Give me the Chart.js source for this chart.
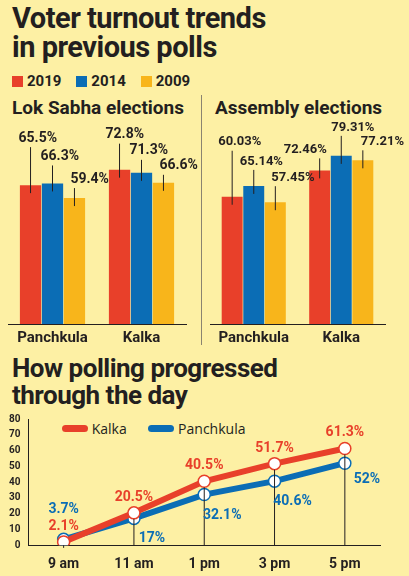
<!DOCTYPE html>
<html><head><meta charset="utf-8">
<script src="https://cdn.jsdelivr.net/npm/chart.js@4"></script>
<style>
body{margin:0;background:#fdf0a4;width:409px;height:576px;position:relative;overflow:hidden;font-family:"Liberation Sans Narrow","Roboto",sans-serif;font-weight:bold;color:#231f20}
.t{position:absolute;left:12px;font-size:29px;line-height:29px;letter-spacing:-0.5px}
.sub{position:absolute;font-size:19px}
.sq{display:inline-block;width:11px;height:11px;margin-right:4px;vertical-align:-1px}
canvas{position:absolute}
</style></head><body>
<div class="t" style="top:4px">Voter turnout trends<br>in previous polls</div>
<div style="position:absolute;left:12px;top:72px;font-size:15px">
<span class="sq" style="background:#e8402a"></span>2019&nbsp;&nbsp;&nbsp;
<span class="sq" style="background:#0b6db5"></span>2014&nbsp;&nbsp;&nbsp;
<span class="sq" style="background:#f8b51b"></span>2009</div>
<div class="sub" style="left:12px;top:96px">Lok Sabha elections</div>
<div class="sub" style="left:215px;top:96px">Assembly elections</div>
<div style="position:absolute;left:201px;top:95px;width:1px;height:250px;background:#8a8470"></div>
<div class="t" style="top:355px;font-size:26px;line-height:27px">How polling progressed<br>through the day</div>
<div style="position:absolute;left:62px;top:419px;font-size:14px;font-weight:normal;font-family:'Open Sans',sans-serif">
<span style="display:inline-block;width:26px;height:7px;border-radius:4px;background:#e8402a;vertical-align:2px"></span> Kalka&nbsp;&nbsp;&nbsp;&nbsp;&nbsp;
<span style="display:inline-block;width:26px;height:7px;border-radius:4px;background:#0b6db5;vertical-align:2px"></span> Panchkula</div>
<canvas id="ls" style="left:8px;top:112px" width="192" height="240"></canvas>
<canvas id="as" style="left:210px;top:112px" width="199" height="240"></canvas>
<canvas id="poll" style="left:0;top:410px" width="400" height="166"></canvas>
<script>
const places = ["Panchkula","Kalka"];
const years = ["2019","2014","2009"];
const colors = ["#e8402a","#0b6db5","#f8b51b"];
const lokSabha = [[65.5,72.8],[66.3,71.3],[59.4,66.6]];
const assembly = [[60.03,72.46],[65.14,79.31],[57.45,77.21]];
const times = ["9 am","11 am","1 pm","3 pm","5 pm"];
const kalka = [2.1,20.5,40.5,51.7,61.3];
const panchkula = [3.7,17,32.1,40.6,52];
const fontF = "'Liberation Sans Narrow', Roboto, sans-serif";

const barLabels = {
  id:"barLabels",
  afterDatasetsDraw(chart,args,opts){
    const c = chart.ctx;
    c.save();
    c.font = "bold " + opts.size + "px " + fontF;
    c.fillStyle = "#231f20"; c.strokeStyle = "#231f20"; c.lineWidth = 1;
    chart.data.datasets.forEach((ds,i)=>{
      chart.getDatasetMeta(i).data.forEach((b,j)=>{
        const off = opts.offsets[i][j];
        const ly = b.y - off;
        c.beginPath(); c.moveTo(b.x, b.y + 8); c.lineTo(b.x, ly + 2); c.stroke();
        c.textAlign = "left"; c.textBaseline = "bottom";
        c.fillText(ds.data[j] + "%", b.x - opts.shift[i][j], ly);
      });
    });
    c.restore();
  }
};

function barChart(id, vals, offsets, shift, size, right){
  new Chart(document.getElementById(id),{
    type:"bar",
    data:{labels:places,datasets:years.map((y,i)=>({label:y,data:vals[i],backgroundColor:colors[i]}))},
    options:{
      responsive:false,animation:false,
      layout:{padding:{top:0,right}},
      categoryPercentage:0.74,barPercentage:0.97,
      plugins:{legend:{display:false},tooltip:{enabled:false},barLabels:{offsets,shift,size}},
      scales:{
        y:{display:false,min:0,max:100},
        x:{grid:{display:false,drawTicks:false},border:{color:"#231f20",width:1},
           ticks:{color:"#231f20",font:{family:fontF,size:15,weight:"bold"},padding:5}}
      }
    },
    plugins:[barLabels]
  });
}
barChart("ls", lokSabha, [[40,28],[20,15],[12,10]], [[12,14],[12,12],[4,4]], 14, 14);
barChart("as", assembly, [[48,14],[18,22],[18,12]], [[14,36],[14,10],[4,2]], 13, 24);

const pointLabels = {
  id:"pointLabels",
  afterDatasetsDraw(chart){
    const c = chart.ctx;
    const base = chart.scales.y.getPixelForValue(0);
    c.save();
    c.strokeStyle = "#231f20"; c.lineWidth = 1;
    chart.getDatasetMeta(0).data.forEach(p=>{
      c.beginPath(); c.moveTo(p.x,p.y+6); c.lineTo(p.x,base); c.stroke();
    });
    c.font = "bold 14px " + fontF; c.textAlign = "center";
    const km = chart.getDatasetMeta(0).data, pm = chart.getDatasetMeta(1).data;
    km.forEach((p,i)=>{
      c.fillStyle = "#e8402a";
      c.fillText(kalka[i]+"%", p.x, p.y-12);
    });
    pm.forEach((p,i)=>{
      c.fillStyle = "#0b6db5";
      if(i==0) c.fillText(panchkula[i]+"%", p.x, p.y-26);
      else c.fillText(panchkula[i]+"%", p.x+(i==4?22:18), p.y+(i==4?20:24));
    });
    c.restore();
  }
};

new Chart(document.getElementById("poll"),{
  type:"line",
  data:{labels:times,datasets:[
    {label:"Kalka",data:kalka,borderColor:"#e8402a",borderWidth:6,pointRadius:6,pointBackgroundColor:"#fff",pointBorderColor:"#e8402a",pointBorderWidth:1.5},
    {label:"Panchkula",data:panchkula,borderColor:"#0b6db5",borderWidth:6,pointRadius:6,pointBackgroundColor:"#fff",pointBorderColor:"#0b6db5",pointBorderWidth:1.5}
  ]},
  options:{
    responsive:false,animation:false,
    layout:{padding:{left:6,right:20,top:4}},
    plugins:{legend:{display:false},tooltip:{enabled:false}},
    scales:{
      x:{offset:true,grid:{display:false},border:{color:"#231f20"},
         ticks:{color:"#231f20",font:{family:fontF,size:14,weight:"bold"}}},
      y:{min:0,max:80,grid:{display:false,drawTicks:true,tickLength:5},border:{color:"#231f20"},
         ticks:{stepSize:10,color:"#231f20",font:{family:fontF,size:10,weight:"bold"}}}
    }
  },
  plugins:[pointLabels]
});
</script>
</body></html>
